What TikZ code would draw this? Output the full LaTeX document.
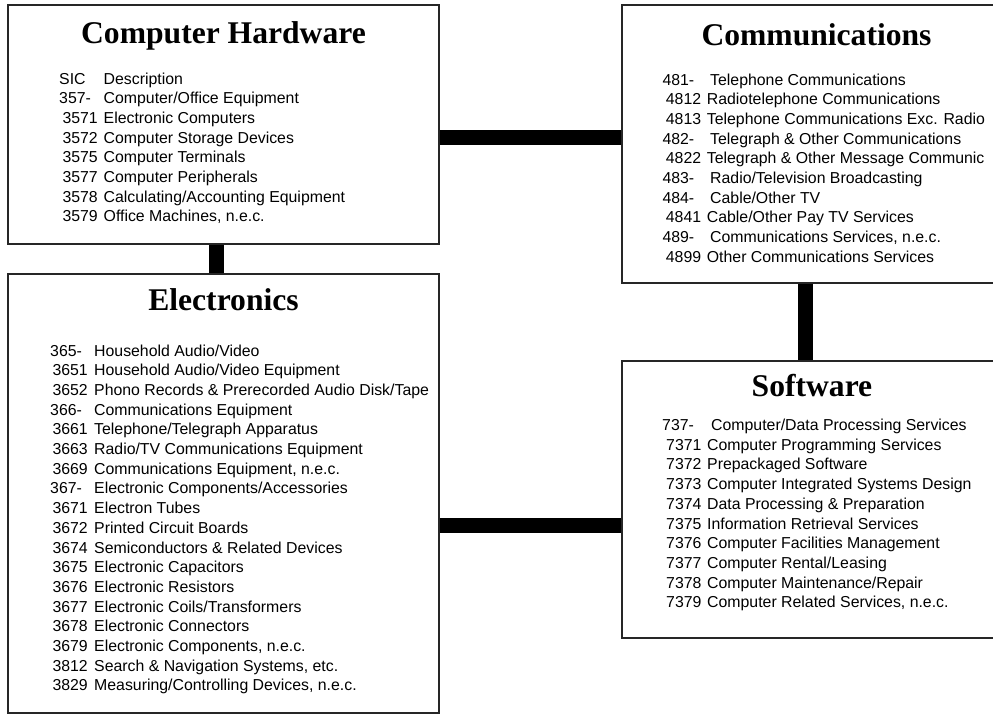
\documentclass[tikz,border=0pt]{standalone}
\usepackage{fontspec}
\setmainfont{Liberation Serif}
\newfontfamily\arialfont{Liberation Sans}
\tikzset{
  box/.style={draw=black!85, line width=1.5pt, fill=white, inner sep=0pt, rectangle},
  bar/.style={line width=15pt, black},
  boxtitle/.style={anchor=base, inner sep=0pt, font=\fontsize{31.6}{36}\selectfont\bfseries},
  listtext/.style={anchor=base west, inner sep=0pt, font=\arialfont\fontsize{15.85}{19.7}\selectfont},
}
% name, x of code, x of description, baseline y, code, description
\newcommand\sicline[6]{%
  \node[listtext] (#1) at (#2,#4) {\makebox[\dimexpr #3pt-#2pt\relax][l]{#5}#6};}
\begin{document}
\begin{tikzpicture}[x=1pt,y=-1pt]
\clip (0,0) rectangle (993,715);
\fill[white] (0,0) rectangle (993,715);

% boxes
\node[box, minimum width=431pt, minimum height=239pt] (hw) at (223.5,124.5) {};
\node[box, minimum width=431pt, minimum height=439pt] (el) at (223.5,493.5) {};
\node[box, minimum width=389pt, minimum height=278pt] (cm) at (816.5,144) {};
\node[box, minimum width=389pt, minimum height=277pt] (sw) at (816.5,499.5) {};

% connectors
\draw[bar] ([yshift=-13pt]hw.east) -- ([yshift=6.5pt]cm.west);
\draw[bar] ([xshift=-7pt]hw.south) -- ([xshift=-7pt]el.north);
\draw[bar] ([xshift=-11pt]cm.south) -- ([xshift=-11pt]sw.north);
\draw[bar] ([yshift=-31.5pt]el.east) -- ([yshift=-25.5pt]sw.west);

% titles
\node[boxtitle] (hwt) at (223.5,43) {Computer Hardware};
\node[boxtitle] (elt) at (223.5,310) {Electronics};
\node[boxtitle] (cmt) at (816.5,45.5) {Communications};
\node[boxtitle] (swt) at (812,396) {Software};

% Computer Hardware
\sicline{h0}{59}{103.5}{84}{SIC}{Description}
\sicline{h1}{59}{103.5}{103.7}{357-}{Computer/Office Equipment}
\sicline{h2}{62.3}{103.5}{123.4}{3571}{Electronic Computers}
\sicline{h3}{62.3}{103.5}{143.1}{3572}{Computer Storage Devices}
\sicline{h4}{62.3}{103.5}{162.8}{3575}{Computer Terminals}
\sicline{h5}{62.3}{103.5}{182.5}{3577}{Computer Peripherals}
\sicline{h6}{62.3}{103.5}{202.2}{3578}{Calculating/Accounting Equipment}
\sicline{h7}{62.3}{103.5}{221.9}{3579}{Office Machines, n.e.c.}

% Communications
\sicline{c0}{662.3}{710}{85}{481-}{Telephone Communications}
\sicline{c1}{665.7}{706.7}{104.7}{4812}{Radiotelephone Communications}
\sicline{c2}{665.7}{706.7}{124.4}{4813}{Telephone Communications Exc. Radio}
\sicline{c3}{662.3}{710}{144.1}{482-}{Telegraph \& Other Communications}
\sicline{c4}{665.7}{706.7}{163.8}{4822}{Telegraph \& Other Message Communic}
\sicline{c5}{662.3}{710}{183.5}{483-}{Radio/Television Broadcasting}
\sicline{c6}{662.3}{710}{203.2}{484-}{Cable/Other TV}
\sicline{c7}{665.7}{706.7}{222.9}{4841}{Cable/Other Pay TV Services}
\sicline{c8}{662.3}{710}{242.6}{489-}{Communications Services, n.e.c.}
\sicline{c9}{665.7}{706.7}{262.3}{4899}{Other Communications Services}

% Electronics
\sicline{e0}{50}{94}{356}{365-}{Household Audio/Video}
\sicline{e1}{52.3}{94}{375.7}{3651}{Household Audio/Video Equipment}
\sicline{e2}{52.3}{94}{395.4}{3652}{Phono Records \& Prerecorded Audio Disk/Tape}
\sicline{e3}{50}{94}{415.1}{366-}{Communications Equipment}
\sicline{e4}{52.3}{94}{434.8}{3661}{Telephone/Telegraph Apparatus}
\sicline{e5}{52.3}{94}{454.5}{3663}{Radio/TV Communications Equipment}
\sicline{e6}{52.3}{94}{474.2}{3669}{Communications Equipment, n.e.c.}
\sicline{e7}{50}{94}{493.9}{367-}{Electronic Components/Accessories}
\sicline{e8}{52.3}{94}{513.6}{3671}{Electron Tubes}
\sicline{e9}{52.3}{94}{533.3}{3672}{Printed Circuit Boards}
\sicline{e10}{52.3}{94}{553}{3674}{Semiconductors \& Related Devices}
\sicline{e11}{52.3}{94}{572.7}{3675}{Electronic Capacitors}
\sicline{e12}{52.3}{94}{592.4}{3676}{Electronic Resistors}
\sicline{e13}{52.3}{94}{612.1}{3677}{Electronic Coils/Transformers}
\sicline{e14}{52.3}{94}{631.8}{3678}{Electronic Connectors}
\sicline{e15}{52.3}{94}{651.5}{3679}{Electronic Components, n.e.c.}
\sicline{e16}{52.3}{94}{671.2}{3812}{Search \& Navigation Systems, etc.}
\sicline{e17}{52.3}{94}{690.9}{3829}{Measuring/Controlling Devices, n.e.c.}

% Software
\sicline{s0}{662}{711}{430.5}{737-}{Computer/Data Processing Services}
\sicline{s1}{666}{707}{450.2}{7371}{Computer Programming Services}
\sicline{s2}{666}{707}{469.9}{7372}{Prepackaged Software}
\sicline{s3}{666}{707}{489.6}{7373}{Computer Integrated Systems Design}
\sicline{s4}{666}{707}{509.3}{7374}{Data Processing \& Preparation}
\sicline{s5}{666}{707}{529}{7375}{Information Retrieval Services}
\sicline{s6}{666}{707}{548.7}{7376}{Computer Facilities Management}
\sicline{s7}{666}{707}{568.4}{7377}{Computer Rental/Leasing}
\sicline{s8}{666}{707}{588.1}{7378}{Computer Maintenance/Repair}
\sicline{s9}{666}{707}{607.8}{7379}{Computer Related Services, n.e.c.}
\end{tikzpicture}
\end{document}
